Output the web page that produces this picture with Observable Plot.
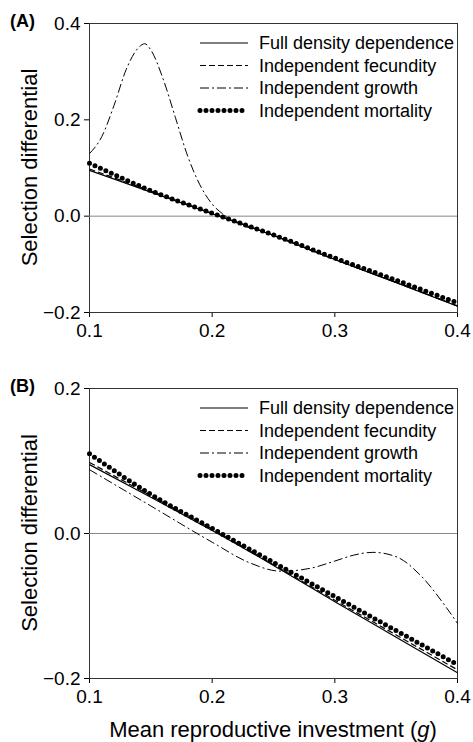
<!DOCTYPE html>
<html><head><meta charset="utf-8">
<script src="https://cdn.jsdelivr.net/npm/d3@7"></script>
<script src="https://cdn.jsdelivr.net/npm/@observablehq/plot@0.6"></script>
<style>
body{margin:0;background:#fff;font-family:Arial,"Liberation Sans",sans-serif}
#wrap{position:relative;width:473px;height:742px}
#wrap svg{position:absolute;left:0;overflow:visible}
</style></head><body><div id="wrap"></div>
<script>
const series = ["Full density dependence", "Independent fecundity", "Independent growth", "Independent mortality"]
const gA = [0.1, 0.15, 0.2, 0.25, 0.3, 0.35, 0.4]
const fullA = [0.095, 0.05, 0.005, -0.04, -0.09, -0.138, -0.187]
const fecA = [0.098, 0.052, 0.006, -0.04, -0.09, -0.137, -0.186]
const mortA = [0.11, 0.053, 0.006, -0.039, -0.087, -0.133, -0.18]
const gGrowA = [0.1, 0.11, 0.12, 0.13, 0.14, 0.145, 0.15, 0.16, 0.17, 0.18, 0.19, 0.2, 0.21, 0.25, 0.3, 0.35, 0.4]
const growA = [0.13, 0.165, 0.23, 0.305, 0.35, 0.358, 0.345, 0.285, 0.205, 0.125, 0.065, 0.025, 0.002, -0.04, -0.09, -0.138, -0.187]

const gB = [0.1, 0.15, 0.2, 0.25, 0.3, 0.35, 0.4]
const fullB = [0.095, 0.05, 0.004, -0.044, -0.094, -0.143, -0.192]
const fecB = [0.098, 0.052, 0.006, -0.043, -0.092, -0.14, -0.188]
const mortB = [0.11, 0.054, 0.007, -0.04, -0.087, -0.134, -0.181]
const gGrowB = [0.1, 0.15, 0.2, 0.23, 0.256, 0.28, 0.3, 0.315, 0.331, 0.35, 0.37, 0.39, 0.4]
const growB = [0.088, 0.038, -0.012, -0.04, -0.052, -0.048, -0.038, -0.03, -0.026, -0.032, -0.058, -0.1, -0.124]

const styles = [
  {dash: null, width: 1.2},
  {dash: "6,3", width: 1.2},
  {dash: "9,3,2,3", width: 1},
  {dash: "0,6", width: 5}
]

function rows(xs, ys, s) { return xs.map((x, i) => ({g: x, v: ys[i], s})) }

function panel(tag, lines, yDomain, yTicks, top, height, mt, mb, xTitle) {
  const marks = [
    Plot.frame({stroke: "#333"}),
    Plot.ruleY([0], {stroke: "#888", strokeWidth: 1})
  ]
  lines.forEach((d, i) => {
    const st = styles[i]
    marks.push(Plot.line(d, {x: "g", y: "v", curve: "monotone-x", stroke: "black",
      strokeWidth: st.width, strokeDasharray: st.dash, strokeLinecap: i == 3 ? "round" : "butt"}))
  })
  const chart = Plot.plot({
    width: 473, height, marginLeft: 89, marginRight: 16, marginTop: mt, marginBottom: mb,
    style: {fontFamily: "Arial, 'Liberation Sans', sans-serif", fontSize: "19px", color: "black"},
    x: {domain: [0.1, 0.4], ticks: [0.1, 0.2, 0.3, 0.4], tickFormat: d3.format(".1f"), label: null, tickSize: 5, tickPadding: 6},
    y: {domain: yDomain, ticks: yTicks, tickFormat: d => d < 0 ? "\u2212" + Math.abs(d).toFixed(1) : d.toFixed(1), label: null, tickSize: 5, tickPadding: 4},
    marks
  })
  const svg = d3.select(chart).style("top", top + "px")
  svg.append("text").attr("x", 10).attr("y", mt + 4).attr("text-anchor", "start")
    .attr("font-size", 18).attr("font-weight", "bold").text(tag)
  svg.append("text").attr("transform", `translate(37,${mt + (height - mt - mb) / 2}) rotate(-90)`)
    .attr("text-anchor", "middle").attr("font-size", 22).text("Selection differential")
  series.forEach((name, i) => {
    const y = mt + 20 + i * 22.5
    const st = styles[i]
    svg.append("line").attr("x1", 200).attr("x2", 248).attr("y1", y).attr("y2", y)
      .attr("stroke", "black").attr("stroke-width", st.width).attr("stroke-dasharray", st.dash)
      .attr("stroke-linecap", i == 3 ? "round" : "butt")
    svg.append("text").attr("x", 259).attr("y", y + 6).attr("text-anchor", "start")
      .attr("font-size", 18).text(name)
  })
  if (xTitle) {
    const t = svg.append("text").attr("x", 273).attr("y", height - 5).attr("text-anchor", "middle").attr("font-size", 22)
    t.append("tspan").text("Mean reproductive investment (")
    t.append("tspan").attr("font-style", "italic").text("g")
    t.append("tspan").text(")")
  }
  d3.select("#wrap").append(() => chart)
}

panel("(A)", [rows(gA, fullA), rows(gA, fecA), rows(gGrowA, growA), rows(gA, mortA)],
  [-0.2, 0.4], [-0.2, 0, 0.2, 0.4], 0, 345, 23, 33, false)
panel("(B)", [rows(gB, fullB), rows(gB, fecB), rows(gGrowB, growB), rows(gB, mortB)],
  [-0.2, 0.2], [-0.2, 0, 0.2], 345, 397, 43, 64, true)
</script></body></html>
